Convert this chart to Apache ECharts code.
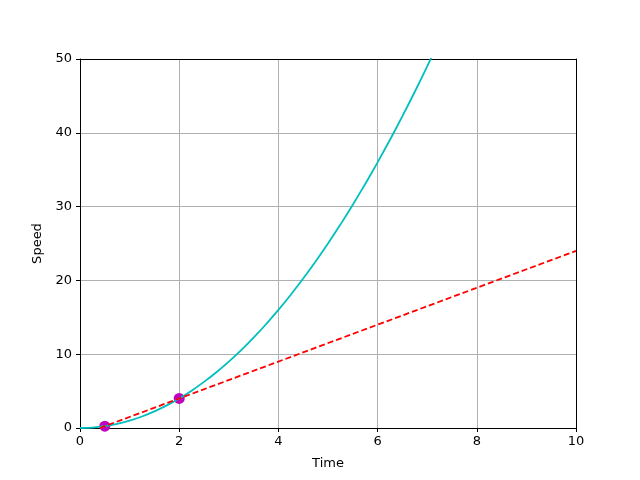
<!DOCTYPE html>
<html>
<head>
<meta charset="utf-8">
<script src="https://cdn.jsdelivr.net/npm/echarts@6/dist/echarts.min.js"></script>
<style>
  html, body { margin: 0; padding: 0; background: #fff; }
  #main { width: 640px; height: 480px; }
</style>
</head>
<body>
<div id="main"></div>
<script>
// values
const curveTime = [0, 0.25, 0.5, 0.75, 1, 1.25, 1.5, 1.75, 2, 2.25, 2.5, 2.75, 3, 3.25, 3.5, 3.75, 4, 4.25, 4.5, 4.75, 5, 5.25, 5.5, 5.75, 6, 6.25, 6.5, 6.75, 7, 7.25]
const curveSpeed = [0, 0.06, 0.25, 0.56, 1, 1.56, 2.25, 3.06, 4, 5.06, 6.25, 7.56, 9, 10.56, 12.25, 14.06, 16, 18.06, 20.25, 22.56, 25, 27.56, 30.25, 33.06, 36, 39.06, 42.25, 45.56, 49, 52.56]
const lineTime = [0.4, 10]
const lineSpeed = [0, 24]
const pointTime = [0.5, 2]
const pointSpeed = [0.25, 4]
const xTicks = [0, 2, 4, 6, 8, 10]
const yTicks = [0, 10, 20, 30, 40, 50]

const zip = (a, b) => a.map((v, i) => [v, b[i]])

var myChart = echarts.init(document.getElementById('main'))
const font = 'DejaVu Sans'
const labelStyle = { color: '#000', fontFamily: font, fontSize: 13 }

let option = {
  animation: false,
  grid: { left: 80, right: 64, top: 59, bottom: 52 },
  xAxis: [
    {
      type: 'value',
      min: xTicks[0],
      max: xTicks[xTicks.length - 1],
      interval: 2,
      name: 'Time',
      nameLocation: 'middle',
      nameGap: 29,
      nameTextStyle: labelStyle,
      axisLine: { show: true, onZero: false, lineStyle: { color: '#000', width: 1 } },
      axisTick: { show: true, length: 4, lineStyle: { color: '#000' } },
      axisLabel: { ...labelStyle, margin: 7 },
      splitLine: { show: true, lineStyle: { color: '#b0b0b0', width: 1 } },
    },
    {
      type: 'value',
      position: 'top',
      min: 0,
      max: 10,
      axisLine: { show: true, onZero: false, lineStyle: { color: '#000', width: 1 } },
      axisTick: { show: false },
      axisLabel: { show: false },
      splitLine: { show: false },
    },
  ],
  yAxis: [
    {
      type: 'value',
      min: yTicks[0],
      max: yTicks[yTicks.length - 1],
      interval: 10,
      name: 'Speed',
      nameLocation: 'middle',
      nameGap: 33,
      nameTextStyle: labelStyle,
      axisLine: { show: true, onZero: false, lineStyle: { color: '#000', width: 1 } },
      axisTick: { show: true, length: 4, lineStyle: { color: '#000' } },
      axisLabel: { ...labelStyle, margin: 8 },
      splitLine: { show: true, lineStyle: { color: '#b0b0b0', width: 1 } },
    },
    {
      type: 'value',
      position: 'right',
      min: 0,
      max: 50,
      axisLine: { show: true, onZero: false, lineStyle: { color: '#000', width: 1 } },
      axisTick: { show: false },
      axisLabel: { show: false },
      splitLine: { show: false },
    },
  ],
  series: [
    {
      type: 'line',
      data: zip(curveTime, curveSpeed),
      showSymbol: false,
      smooth: 0.2,
      clip: true,
      lineStyle: { color: '#00bfbf', width: 1.8 },
      z: 2,
    },
    {
      type: 'line',
      data: zip(lineTime, lineSpeed),
      showSymbol: false,
      clip: true,
      lineStyle: { color: '#ff0000', width: 1.8, type: [6, 3] },
      z: 3,
    },
    {
      type: 'scatter',
      data: zip(pointTime, pointSpeed),
      symbolSize: 11,
      clip: false,
      itemStyle: { color: '#bf00bf', opacity: 1 },
      z: 1,
    },
  ],
}
myChart.setOption(option)
</script>
</body>
</html>
